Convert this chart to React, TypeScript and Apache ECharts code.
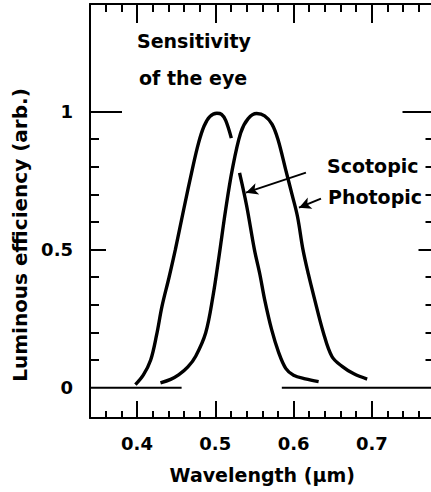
import React, { useEffect, useRef } from "react";
import * as echarts from "echarts";

// ---- data ----
const scotopicX1 = [0.398, 0.408, 0.4175, 0.425, 0.432, 0.441, 0.449, 0.46, 0.4706, 0.4785, 0.4856, 0.493, 0.502, 0.508, 0.5133, 0.5205];
const scotopicY1 = [0.011, 0.045, 0.1, 0.19, 0.295, 0.4, 0.5, 0.65, 0.79, 0.885, 0.947, 0.982, 0.994, 0.99, 0.968, 0.904];
const scotopicX2 = [0.531, 0.54, 0.55, 0.557, 0.563, 0.572, 0.581, 0.59, 0.6, 0.615, 0.632];
const scotopicY2 = [0.778, 0.66, 0.5, 0.41, 0.32, 0.21, 0.127, 0.07, 0.045, 0.032, 0.022];
const photopicX = [0.43, 0.443, 0.4536, 0.465, 0.475, 0.4877, 0.497, 0.505, 0.513, 0.5217, 0.5324, 0.542, 0.5529, 0.563, 0.5724, 0.58, 0.5899, 0.598, 0.605, 0.612, 0.619, 0.626, 0.638, 0.649, 0.662, 0.677, 0.694];
const photopicY = [0.017, 0.03, 0.047, 0.075, 0.114, 0.198, 0.33, 0.48, 0.64, 0.79, 0.923, 0.975, 0.993, 0.985, 0.955, 0.9, 0.79, 0.7, 0.62, 0.5, 0.41, 0.33, 0.2, 0.113, 0.077, 0.05, 0.031];
const baselineLeftX = [0.34, 0.457];
const baselineRightX = [0.585, 0.78];
const scotopicArrow = [[0.6158, 0.779], [0.5392, 0.7065]];
const photopicArrow = [[0.635, 0.685], [0.6069, 0.652]];

// ---- axes / ticks ----
const xMin = 0.34;
const xMax = 0.78;
const yMin = -0.11;
const yMax = 1.39;
const xMinorTicks = [0.36, 0.38, 0.42, 0.44, 0.46, 0.48, 0.52, 0.54, 0.56, 0.58, 0.62, 0.64, 0.66, 0.68, 0.72, 0.74, 0.76];
const xMajorTicks = [0.4, 0.5, 0.6, 0.7];
const yMinorTicks = [0.1, 0.2, 0.3, 0.4, 0.6, 0.7, 0.8, 0.9];
const yMidTicks = [0.5];
const yTopTicks = [1];
const yTickLabels = [0, 0.5, 1];

const FONT = "DejaVu Sans";
const BLACK = "#000";

export default function App() {
  const ref = useRef<HTMLDivElement>(null);
  useEffect(() => {
    if (!ref.current) return;
    const chart = echarts.init(ref.current, undefined, { renderer: "svg" });
    const zip = (xs: number[], ys: number[]) => xs.map((x, i) => [x, ys[i]]);
    const lineW = 2;

    const xAxisBase = (pos: "top" | "bottom", ticks: number[], len: number, showLine: boolean, labels: boolean) => ({
      type: "value",
      position: pos,
      min: xMin,
      max: xMax,
      gridIndex: 0,
      splitLine: { show: false },
      axisLine: { show: showLine, onZero: false, lineStyle: { color: BLACK, width: lineW } },
      axisTick: { show: true, inside: true, length: len, customValues: ticks, lineStyle: { color: BLACK, width: lineW } },
      axisLabel: labels
        ? {
            show: true,
            customValues: xMajorTicks,
            formatter: (v: number) => v.toFixed(1),
            color: BLACK,
            fontFamily: FONT,
            fontWeight: "bold",
            fontSize: 18,
            margin: 16,
          }
        : { show: false },
    });

    const yAxisBase = (pos: "left" | "right", ticks: number[], len: number, showLine: boolean, labels: boolean) => ({
      type: "value",
      position: pos,
      min: yMin,
      max: yMax,
      gridIndex: 0,
      splitLine: { show: false },
      axisLine: { show: showLine, onZero: false, lineStyle: { color: BLACK, width: lineW } },
      axisTick: { show: true, inside: true, length: len, customValues: ticks, lineStyle: { color: BLACK, width: lineW } },
      axisLabel: labels
        ? {
            show: true,
            customValues: yTickLabels,
            formatter: (v: number) => (v === 0 ? "0" : v === 1 ? "1" : String(v)),
            color: BLACK,
            fontFamily: FONT,
            fontWeight: "bold",
            fontSize: 18,
            margin: 17,
          }
        : { show: false },
    });

    const xb = xAxisBase("bottom", xMinorTicks, 7, true, true) as any;
    xb.name = "Wavelength (µm)";
    xb.nameLocation = "middle";
    xb.nameGap = 47;
    xb.nameTextStyle = { color: BLACK, fontFamily: FONT, fontWeight: "bold", fontSize: 19 };

    const yl = yAxisBase("left", yMinorTicks, 9, true, true) as any;
    yl.name = "Luminous efficiency (arb.)";
    yl.nameLocation = "middle";
    yl.nameGap = 59;
    yl.nameTextStyle = { color: BLACK, fontFamily: FONT, fontWeight: "bold", fontSize: 20, padding: [0, 48, 0, 0] };

    const thick = { type: "line", symbol: "none", lineStyle: { color: BLACK, width: 3.4 }, itemStyle: { color: BLACK }, silent: true, xAxisIndex: 0, yAxisIndex: 0, smooth: 0.35 };
    const flat = { type: "line", symbol: "none", lineStyle: { color: BLACK, width: 2 }, silent: true, xAxisIndex: 0, yAxisIndex: 0 };

    const option: any = {
      animation: false,
      backgroundColor: "#fff",
      grid: { left: 90, top: 4, right: -3.5, bottom: 74, containLabel: false, outerBoundsMode: "none" },
      xAxis: [
        xb,
        xAxisBase("bottom", xMajorTicks, 17, false, false),
        xAxisBase("top", xMinorTicks, 8, true, false),
        xAxisBase("top", xMajorTicks, 19, false, false),
      ],
      yAxis: [
        yl,
        yAxisBase("left", yMidTicks, 16, false, false),
        yAxisBase("left", yTopTicks, 32, false, false),
        yAxisBase("right", yMinorTicks, 9, true, false),
        yAxisBase("right", yMidTicks, 16, false, false),
        yAxisBase("right", yTopTicks, 32, false, false),
      ],
      series: [
        { ...flat, name: "baseline-left", data: baselineLeftX.map((x) => [x, 0]) },
        { ...flat, name: "baseline-right", data: baselineRightX.map((x) => [x, 0]) },
        { ...thick, name: "Scotopic", data: zip(scotopicX1, scotopicY1) },
        { ...thick, name: "Scotopic (cont.)", data: zip(scotopicX2, scotopicY2) },
        {
          ...thick,
          name: "Photopic",
          data: zip(photopicX, photopicY),
          markLine: {
            silent: true,
            symbol: ["none", "arrow"],
            symbolSize: [9, 12],
            label: { show: false },
            lineStyle: { color: BLACK, width: 2, type: "solid" },
            data: [
              [{ coord: scotopicArrow[0] }, { coord: scotopicArrow[1] }],
              [{ coord: photopicArrow[0] }, { coord: photopicArrow[1] }],
            ],
          },
        },
      ],
      graphic: [
        { type: "text", x: 137, y: 41, style: { text: "Sensitivity", fill: BLACK, font: `bold 19px "${FONT}"`, textVerticalAlign: "middle" } },
        { type: "text", x: 139, y: 78, style: { text: "of the eye", fill: BLACK, font: `bold 19px "${FONT}"`, textVerticalAlign: "middle" } },
        { type: "text", x: 327, y: 166, style: { text: "Scotopic", fill: BLACK, font: `bold 19px "${FONT}"`, textVerticalAlign: "middle" } },
        { type: "text", x: 328, y: 197, style: { text: "Photopic", fill: BLACK, font: `bold 19px "${FONT}"`, textVerticalAlign: "middle" } },
      ],
    };
    chart.setOption(option);
    return () => chart.dispose();
  }, []);
  return <div ref={ref} style={{ position: "fixed", left: 0, top: 0, width: 431, height: 492 }} />;
}
